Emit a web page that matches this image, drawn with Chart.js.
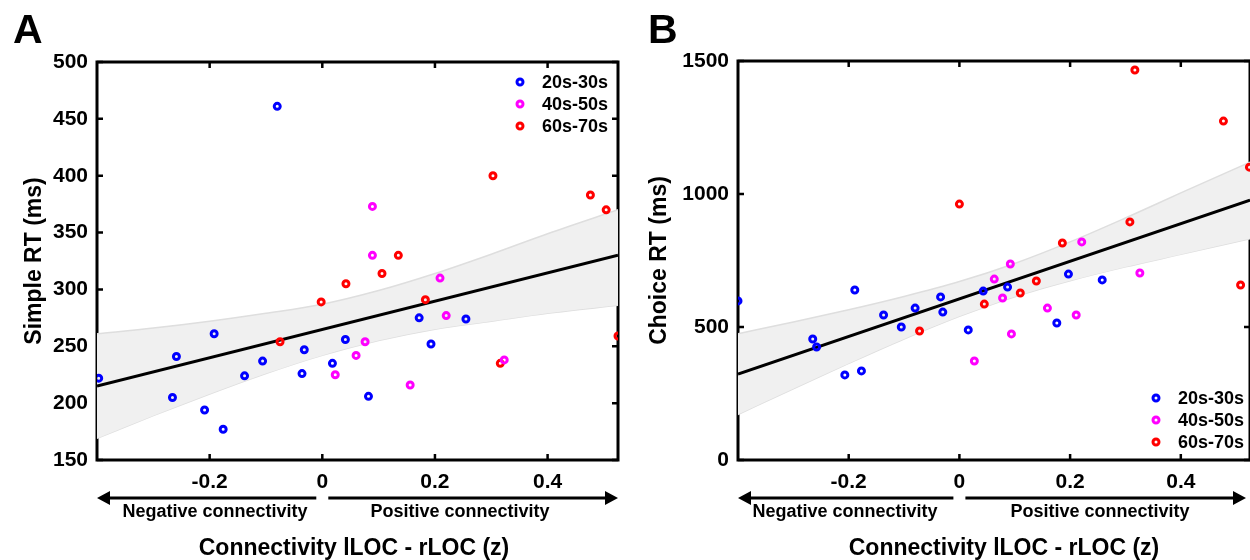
<!DOCTYPE html>
<html>
<head>
<meta charset="utf-8">
<script src="https://cdn.jsdelivr.net/npm/chart.js@4.4.1/dist/chart.umd.min.js"></script>
<style>
  html, body { margin: 0; padding: 0; background: #fff; }
  #wrap { position: relative; width: 1250px; height: 560px; overflow: hidden; }
  canvas { position: absolute; top: 0; }
</style>
</head>
<body>
<div id="wrap">
  <canvas id="chartA" width="625" height="560" style="left:0"></canvas>
  <canvas id="chartB" width="625" height="560" style="left:625px"></canvas>
</div>
<script>
// groups (age ranges)
const groupLabels = ['20s-30s', '40s-50s', '60s-70s'];
const groupColors = ['#0000ff', '#ff00ff', '#ff0000'];

// axis ticks
const xTickValues = [-0.2, 0, 0.2, 0.4];
const xTickLabels = ['-0.2', '0', '0.2', '0.4'];
const yTicksA = [150, 200, 250, 300, 350, 400, 450, 500];
const yTicksB = [0, 500, 1000, 1500];

// A: simple RT (ms) vs connectivity
const simpleYoungX = [-0.397, -0.266, -0.259, -0.209, -0.192, -0.176, -0.138, -0.106, -0.080, -0.036, -0.032, 0.018, 0.041, 0.082, 0.172, 0.193, 0.255];
const simpleYoungY = [222, 205, 241, 194, 261, 177, 224, 237, 461, 226, 247, 235, 256, 206, 275, 252, 274];
const simpleMiddleX = [0.023, 0.060, 0.076, 0.089, 0.089, 0.156, 0.209, 0.220, 0.323];
const simpleMiddleY = [225, 242, 254, 373, 330, 216, 310, 277, 238];
const simpleOldX = [-0.075, -0.002, 0.042, 0.106, 0.135, 0.183, 0.303, 0.316, 0.476, 0.504, 0.525];
const simpleOldY = [254, 289, 305, 314, 330, 291, 400, 235, 383, 370, 259];

// B: choice RT (ms) vs connectivity
const choiceYoungX = [-0.400, -0.265, -0.258, -0.207, -0.189, -0.177, -0.137, -0.105, -0.080, -0.034, -0.030, 0.016, 0.043, 0.087, 0.176, 0.197, 0.258];
const choiceYoungY = [598, 455, 425, 320, 639, 335, 545, 500, 571, 613, 556, 489, 635, 650, 515, 699, 677];
const choiceMiddleX = [0.027, 0.063, 0.078, 0.092, 0.094, 0.159, 0.211, 0.221, 0.326];
const choiceMiddleY = [372, 680, 609, 737, 474, 571, 545, 820, 703];
const choiceOldX = [-0.072, 0.000, 0.045, 0.110, 0.139, 0.186, 0.308, 0.317, 0.477, 0.508, 0.524];
const choiceOldY = [485, 962, 586, 628, 673, 816, 895, 1466, 1274, 658, 1101];

// fit lines and confidence bands
const fitX = [-0.4, 0.525];
const fitA = [215, 330];
const fitB = [323, 977];
const bandX = [-0.4, -0.3, -0.2, -0.1, 0, 0.1, 0.2, 0.3, 0.4, 0.525];
const bandUpperA = [261, 266, 272, 279, 287, 299, 314, 331, 349, 370];
const bandLowerA = [169, 189, 208, 226, 242, 255, 265, 272, 279, 286];
const bandUpperB = [475, 519, 565, 615, 671, 739, 820, 910, 1004, 1120];
const bandLowerB = [171, 268, 363, 455, 540, 614, 674, 726, 773, 832];

const FONT = "'Liberation Sans', Arial, sans-serif";
Chart.defaults.font.family = FONT;

function pts(xs, ys) {
    return xs.map((v, i) => ({ x: v, y: ys[i] }));
}

function groupSet(i, xs, ys) {
    return {
        type: 'scatter',
        label: groupLabels[i],
        data: pts(xs, ys),
        borderColor: groupColors[i],
        backgroundColor: 'rgba(0,0,0,0)',
        pointRadius: 3,
        pointHoverRadius: 3,
        pointBorderWidth: 3,
        order: 0
    };
}

function fitSet(ys) {
    return {
        type: 'line',
        data: pts(fitX, ys),
        borderColor: '#000',
        borderWidth: 3,
        pointRadius: 0,
        order: 1
    };
}

function bandSet(ys, fill) {
    return {
        type: 'line',
        data: pts(bandX, ys),
        borderColor: '#dedede',
        borderWidth: 1.5,
        backgroundColor: '#f0f0f0',
        fill: fill,
        cubicInterpolationMode: 'monotone',
        pointRadius: 0,
        order: 2
    };
}

// frame, inward ticks, arrows, titles and legend
const panelDecor = {
    id: 'panelDecor',
    beforeDatasetsDraw(chart) {
        const { ctx, chartArea: a, scales: { x, y } } = chart;
        ctx.save();
        ctx.strokeStyle = '#000';
        ctx.lineWidth = 2.5;
        ctx.beginPath();
        y.ticks.forEach(t => {
            const py = y.getPixelForValue(t.value);
            ctx.moveTo(a.left, py); ctx.lineTo(a.left + 6, py);
            ctx.moveTo(a.right, py); ctx.lineTo(a.right - 6, py);
        });
        x.ticks.forEach(t => {
            const px = x.getPixelForValue(t.value);
            ctx.moveTo(px, a.top); ctx.lineTo(px, a.top + 6);
            ctx.moveTo(px, a.bottom); ctx.lineTo(px, a.bottom - 6);
        });
        ctx.stroke();
        ctx.lineWidth = 3;
        ctx.strokeRect(a.left, a.top, a.right - a.left, a.bottom - a.top);
        ctx.restore();
    },
    afterDraw(chart, args, o) {
        const { ctx, chartArea: a, scales: { x } } = chart;
        ctx.save();
        ctx.fillStyle = '#000';
        ctx.strokeStyle = '#000';

        // panel letter
        ctx.font = 'bold 41px ' + FONT;
        ctx.textBaseline = 'alphabetic';
        ctx.textAlign = 'left';
        ctx.fillText(o.letter, o.letterX, 43);

        // y title
        ctx.font = 'bold 23px ' + FONT;
        ctx.save();
        ctx.translate(o.yTitleX, (a.top + a.bottom) / 2);
        ctx.rotate(-Math.PI / 2);
        ctx.textAlign = 'center';
        ctx.textBaseline = 'middle';
        ctx.fillText(o.yTitle, 0, 0);
        ctx.restore();

        // x title
        ctx.textAlign = 'center';
        ctx.fillText('Connectivity lLOC - rLOC (z)', o.xTitleX, 555);

        // arrows
        const ay = 498;
        const zero = x.getPixelForValue(0);
        const lTip = a.left;
        const rTip = a.right - o.rightInset;
        ctx.lineWidth = 3;
        ctx.beginPath();
        ctx.moveTo(zero - 6, ay); ctx.lineTo(lTip + 10, ay);
        ctx.moveTo(zero + 6, ay); ctx.lineTo(rTip - 10, ay);
        ctx.stroke();
        ctx.beginPath();
        ctx.moveTo(lTip, ay); ctx.lineTo(lTip + 13, ay - 7); ctx.lineTo(lTip + 13, ay + 7); ctx.closePath();
        ctx.moveTo(rTip, ay); ctx.lineTo(rTip - 13, ay - 7); ctx.lineTo(rTip - 13, ay + 7); ctx.closePath();
        ctx.fill();

        ctx.font = 'bold 18px ' + FONT;
        ctx.fillText('Negative connectivity', o.negX, 517);
        ctx.fillText('Positive connectivity', o.posX, 517);

        // legend
        ctx.font = 'bold 18px ' + FONT;
        ctx.textAlign = 'left';
        ctx.textBaseline = 'middle';
        chart.data.datasets.slice(0, 3).forEach((ds, i) => {
            const ly = o.legendY + i * 22;
            ctx.strokeStyle = ds.borderColor;
            ctx.lineWidth = 3;
            ctx.beginPath();
            ctx.arc(o.legendX, ly, 3, 0, Math.PI * 2);
            ctx.stroke();
            ctx.fillStyle = '#000';
            ctx.fillText(ds.label, o.legendX + 22, ly + 1);
        });
        ctx.restore();
    }
};

function makeChart(id, sets, yMin, yMax, yTicks, yWidth, pad, decor) {
    const tickFont = { family: FONT, size: 21, weight: 'bold' };
    return new Chart(document.getElementById(id), {
        type: 'scatter',
        data: { datasets: sets },
        plugins: [panelDecor],
        options: {
            responsive: false,
            animation: false,
            events: [],
            layout: { padding: pad, autoPadding: false },
            plugins: {
                legend: { display: false },
                tooltip: { enabled: false },
                panelDecor: decor
            },
            scales: {
                x: {
                    type: 'linear',
                    min: -0.4,
                    max: 0.525,
                    grid: { display: false, drawTicks: false },
                    border: { display: false },
                    afterBuildTicks: s => { s.ticks = xTickValues.map(v => ({ value: v })); },
                    afterFit: s => { s.height = 100; },
                    ticks: { color: '#000', font: tickFont, padding: 10, callback: (v, i) => xTickLabels[i] }
                },
                y: {
                    type: 'linear',
                    min: yMin,
                    max: yMax,
                    grid: { display: false, drawTicks: false },
                    border: { display: false },
                    afterBuildTicks: s => { s.ticks = yTicks.map(v => ({ value: v })); },
                    afterFit: s => { s.width = yWidth; },
                    ticks: { color: '#000', font: tickFont, padding: 9, callback: v => String(v) }
                }
            }
        }
    });
}

makeChart('chartA', [
    groupSet(0, simpleYoungX, simpleYoungY),
    groupSet(1, simpleMiddleX, simpleMiddleY),
    groupSet(2, simpleOldX, simpleOldY),
    fitSet(fitA),
    bandSet(bandUpperA, '+1'),
    bandSet(bandLowerA, false)
], 150, 500, yTicksA, 97, { top: 62, right: 7, left: 0, bottom: 0 }, {
    letter: 'A', letterX: 13, yTitle: 'Simple RT (ms)', yTitleX: 35,
    xTitleX: 354, negX: 215, posX: 460, rightInset: 0,
    legendX: 520, legendY: 82
});

makeChart('chartB', [
    groupSet(0, choiceYoungX, choiceYoungY),
    groupSet(1, choiceMiddleX, choiceMiddleY),
    groupSet(2, choiceOldX, choiceOldY),
    fitSet(fitB),
    bandSet(bandUpperB, '+1'),
    bandSet(bandLowerB, false)
], 0, 1500, yTicksB, 113, { top: 61, right: 0, left: 0, bottom: 0 }, {
    letter: 'B', letterX: 23, yTitle: 'Choice RT (ms)', yTitleX: 35,
    xTitleX: 379, negX: 220, posX: 475, rightInset: 4,
    legendX: 531, legendY: 398
});
</script>
</body>
</html>
